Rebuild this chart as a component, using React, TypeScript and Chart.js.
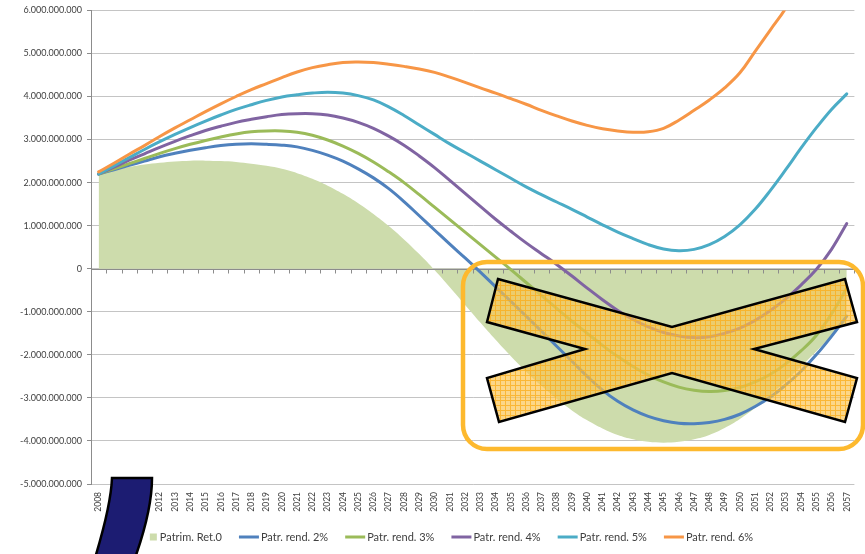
import React, { useEffect, useRef } from "react";
import { Chart, registerables } from "chart.js";

Chart.register(...registerables);

// Years on the horizontal axis
const years = [
  "2008", "2009", "2010", "2011", "2012", "2013", "2014", "2015", "2016", "2017",
  "2018", "2019", "2020", "2021", "2022", "2023", "2024", "2025", "2026", "2027",
  "2028", "2029", "2030", "2031", "2032", "2033", "2034", "2035", "2036", "2037",
  "2038", "2039", "2040", "2041", "2042", "2043", "2044", "2045", "2046", "2047",
  "2048", "2049", "2050", "2051", "2052", "2053", "2054", "2055", "2056", "2057",
];

// Values in billions (miliardi)
const patrimRet0 = [
  2.2, 2.29, 2.36, 2.42, 2.46, 2.49, 2.51, 2.51, 2.5, 2.48,
  2.44, 2.39, 2.32, 2.22, 2.09, 1.93, 1.74, 1.52, 1.27, 0.99,
  0.68, 0.34, -0.03, -0.43, -0.84, -1.25, -1.65, -2.03, -2.39, -2.72,
  -3.02, -3.29, -3.52, -3.71, -3.86, -3.96, -4.02, -4.04, -4.02, -3.96,
  -3.86, -3.7, -3.49, -3.23, -2.93, -2.61, -2.27, -1.92, -1.57, -1.22,
];
const rend2 = [
  2.2, 2.3, 2.4, 2.5, 2.6, 2.68, 2.75, 2.81, 2.86, 2.89,
  2.9, 2.89, 2.87, 2.83, 2.75, 2.64, 2.5, 2.32, 2.11, 1.86,
  1.56, 1.23, 0.9, 0.57, 0.25, -0.08, -0.42, -0.76, -1.1, -1.45,
  -1.8, -2.15, -2.5, -2.82, -3.08, -3.28, -3.43, -3.53, -3.59, -3.6,
  -3.57, -3.5, -3.38, -3.2, -2.98, -2.7, -2.38, -2.0, -1.57, -1.1,
];
const rend3 = [
  2.2, 2.32, 2.44, 2.56, 2.68, 2.79, 2.89, 2.98, 3.06, 3.13,
  3.18, 3.2, 3.2, 3.17, 3.1, 2.99, 2.85, 2.68, 2.48, 2.25,
  2.0, 1.72, 1.43, 1.14, 0.85, 0.56, 0.27, -0.02, -0.32, -0.62,
  -0.92, -1.22, -1.5, -1.78, -2.04, -2.27, -2.47, -2.63, -2.75, -2.82,
  -2.85, -2.83, -2.76, -2.63, -2.45, -2.21, -1.91, -1.55, -1.05, -0.45,
];
const rend4 = [
  2.2, 2.36, 2.52, 2.67, 2.82, 2.96, 3.09, 3.21, 3.31, 3.4,
  3.47, 3.53, 3.58, 3.6, 3.6, 3.57, 3.5, 3.4, 3.26, 3.08,
  2.87, 2.62, 2.35, 2.05, 1.75, 1.45, 1.15, 0.87, 0.6, 0.35,
  0.1, -0.17, -0.45, -0.72, -0.97, -1.18, -1.35, -1.48, -1.56, -1.6,
  -1.58, -1.5, -1.38, -1.2, -0.97, -0.7, -0.38, -0.02, 0.45, 1.05,
];
const rend5 = [
  2.2, 2.39, 2.58, 2.77, 2.95, 3.12, 3.28, 3.43, 3.57, 3.7,
  3.81, 3.91, 3.99, 4.04, 4.08, 4.1, 4.08, 4.02, 3.92, 3.76,
  3.56, 3.34, 3.12, 2.9, 2.7, 2.5, 2.3, 2.1, 1.9, 1.72,
  1.55, 1.38, 1.2, 1.02, 0.85, 0.7, 0.56, 0.46, 0.42, 0.45,
  0.56, 0.75, 1.02, 1.38, 1.82, 2.3, 2.8, 3.27, 3.7, 4.06,
];
const rend6 = [
  2.25, 2.45, 2.66, 2.86, 3.07, 3.27, 3.46, 3.65, 3.83, 4.0,
  4.16, 4.3, 4.44, 4.57, 4.67, 4.74, 4.79, 4.8, 4.79, 4.75,
  4.7, 4.64, 4.56, 4.45, 4.33, 4.2, 4.08, 3.95, 3.82, 3.68,
  3.55, 3.43, 3.33, 3.25, 3.2, 3.17, 3.18, 3.26, 3.45, 3.68,
  3.92, 4.2, 4.55, 5.05, 5.55, 6.05, 6.7, 7.4, 8.2, 9.0,
];

const seriesNames = [
  "Patrim. Ret.0",
  "Patr. rend. 2%",
  "Patr. rend. 3%",
  "Patr. rend. 4%",
  "Patr. rend. 5%",
  "Patr. rend. 6%",
];

const seriesColors = ["#CDDCAC", "#4F81BD", "#9BBB59", "#8064A2", "#4BACC6", "#F79646"];

// Axis range in billions
const yMin = -5;
const yMax = 6;
const yStep = 1;

const FONT = "Lato, 'Open Sans', sans-serif";

function formatFull(v: number): string {
  const n = Math.round(v * 1e9);
  const s = Math.abs(n).toString().replace(/\B(?=(\d{3})+(?!\d))/g, ".");
  return (n < 0 ? "-" : "") + s;
}

// Horizontal axis crossing at zero, with tick marks between the years
const zeroAxisPlugin = {
  id: "zeroAxis",
  afterDatasetDraw(chart: any, args: any) {
    if (args.index !== 0) return;
    const { ctx, chartArea } = chart;
    const y = Math.round(chart.scales.y.getPixelForValue(0)) + 0.5;
    const n = chart.data.labels.length;
    const step = (chartArea.right - chartArea.left) / n;
    ctx.save();
    ctx.strokeStyle = "#8c8c8c";
    ctx.lineWidth = 1;
    ctx.beginPath();
    ctx.moveTo(chartArea.left, y);
    ctx.lineTo(chartArea.right, y);
    for (let i = 0; i <= n; i++) {
      const x = Math.round(chartArea.left + i * step) + 0.5;
      ctx.moveTo(x, y);
      ctx.lineTo(x, y + 4);
    }
    ctx.stroke();
    ctx.restore();
  },
};

// Legend row under the axis labels
const legendPlugin = {
  id: "bottomLegend",
  afterDraw(chart: any) {
    const { ctx } = chart;
    ctx.save();
    ctx.font = `11px ${FONT}`;
    ctx.textBaseline = "middle";
    const y = 537;
    const gapItems = 17;
    const widths = seriesNames.map((name, i) => {
      const sym = i === 0 ? 7 + 3 : 20 + 2;
      return sym + ctx.measureText(name).width;
    });
    const total = widths.reduce((a, b) => a + b, 0) + gapItems * (seriesNames.length - 1);
    let x = 451.5 - total / 2;
    seriesNames.forEach((name, i) => {
      if (i === 0) {
        ctx.fillStyle = seriesColors[0];
        ctx.fillRect(x, y - 3.5, 7, 7);
        x += 10;
      } else {
        ctx.strokeStyle = seriesColors[i];
        ctx.lineWidth = 3;
        ctx.beginPath();
        ctx.moveTo(x, y);
        ctx.lineTo(x + 20, y);
        ctx.stroke();
        x += 22;
      }
      ctx.fillStyle = "#404040";
      ctx.fillText(name, x, y + 0.5);
      x += ctx.measureText(name).width + gapItems;
    });
    ctx.restore();
  },
};

function makeHatch(): CanvasPattern | string {
  const tile = document.createElement("canvas");
  tile.width = 5;
  tile.height = 5;
  const t = tile.getContext("2d");
  if (!t) return "rgba(251,195,75,0.7)";
  t.fillStyle = "rgba(251,196,80,0.68)";
  t.fillRect(0, 0, 5, 5);
  t.fillStyle = "rgba(250,172,25,0.75)";
  t.fillRect(0, 0, 5, 1);
  t.fillRect(0, 1, 1, 4);
  const p = t.createPattern ? t.createPattern(tile, "repeat") : null;
  return p || "rgba(251,195,75,0.7)";
}

// Frame, cross and dark band drawn over the chart
const overlayPlugin = {
  id: "overlayMarks",
  afterDraw(chart: any) {
    const { ctx } = chart;
    ctx.save();

    // rounded frame
    ctx.strokeStyle = "#FDB92E";
    ctx.lineWidth = 4.5;
    ctx.beginPath();
    ctx.roundRect(463, 262, 400, 187, 24);
    ctx.stroke();

    // cross
    const cross = [
      [498, 279], [672, 327], [845, 279], [857, 322], [754, 349], [857, 378],
      [845, 422], [672, 373], [499, 422], [487, 378], [585, 349], [487, 322],
    ];
    ctx.beginPath();
    cross.forEach(([px, py], i) => (i === 0 ? ctx.moveTo(px, py) : ctx.lineTo(px, py)));
    ctx.closePath();
    ctx.fillStyle = makeHatch();
    ctx.fill();
    ctx.strokeStyle = "#000000";
    ctx.lineWidth = 2.5;
    ctx.lineJoin = "miter";
    ctx.stroke();

    // dark curved band at the bottom left
    ctx.beginPath();
    ctx.moveTo(112, 478);
    ctx.lineTo(152, 478);
    ctx.quadraticCurveTo(152, 510, 135, 558);
    ctx.lineTo(95, 558);
    ctx.quadraticCurveTo(111, 505, 112, 478);
    ctx.closePath();
    ctx.fillStyle = "#1C1C72";
    ctx.fill();
    ctx.strokeStyle = "#000000";
    ctx.lineWidth = 2.5;
    ctx.stroke();

    ctx.restore();
  },
};

export default function App() {
  const canvasRef = useRef<HTMLCanvasElement | null>(null);

  useEffect(() => {
    if (!canvasRef.current) return;
    const lineSeries = [rend2, rend3, rend4, rend5, rend6];
    const chart = new Chart(canvasRef.current, {
      type: "line",
      data: {
        labels: years,
        datasets: [
          {
            label: seriesNames[0],
            data: patrimRet0,
            backgroundColor: seriesColors[0],
            borderColor: seriesColors[0],
            borderWidth: 0,
            fill: "origin",
            pointRadius: 0,
            tension: 0.4,
            order: 10,
          },
          ...lineSeries.map((values, i) => ({
            label: seriesNames[i + 1],
            data: values,
            borderColor: seriesColors[i + 1],
            backgroundColor: seriesColors[i + 1],
            borderWidth: 3,
            fill: false,
            pointRadius: 0,
            tension: 0.4,
            borderCapStyle: "round" as const,
            order: 5 - i,
          })),
        ],
      },
      options: {
        animation: false,
        responsive: true,
        maintainAspectRatio: false,
        events: [],
        layout: { padding: { top: 10, right: 3, bottom: 40, left: 0 } },
        plugins: {
          legend: { display: false },
          tooltip: { enabled: false },
        },
        scales: {
          x: {
            type: "category",
            offset: true,
            grid: { display: false, drawTicks: false },
            border: { display: false },
            ticks: {
              autoSkip: false,
              maxRotation: 90,
              minRotation: 90,
              padding: 8,
              color: "#404040",
              font: { family: FONT, size: 8.5 },
            },
            afterFit: (scale: any) => {
              scale.height = 30;
            },
          },
          y: {
            min: yMin,
            max: yMax,
            ticks: {
              stepSize: yStep,
              padding: 5,
              color: "#404040",
              font: { family: FONT, size: 9 },
              callback: (v: any) => formatFull(Number(v)),
            },
            grid: {
              color: "#c4c4c4",
              tickColor: "#8c8c8c",
              tickLength: 4,
              lineWidth: 1,
            },
            border: { display: true, color: "#8c8c8c" },
            afterFit: (scale: any) => {
              scale.width = 91;
            },
          },
        },
      },
      plugins: [zeroAxisPlugin, legendPlugin, overlayPlugin],
    });
    return () => chart.destroy();
  }, []);

  return (
    <div style={{ position: "fixed", left: 0, top: 0, width: 865, height: 554, background: "#ffffff" }}>
      <canvas ref={canvasRef} />
    </div>
  );
}
